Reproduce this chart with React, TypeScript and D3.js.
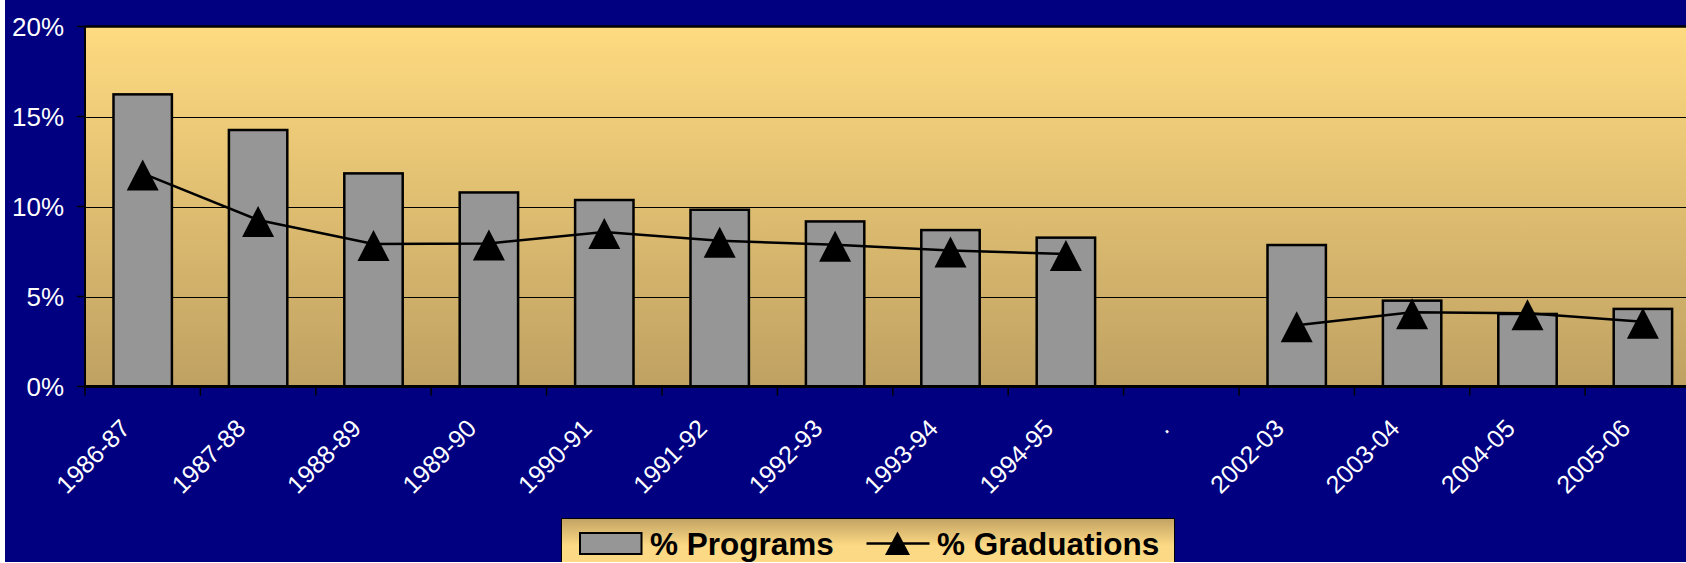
import React from "react";
import * as d3 from "d3";

const categories = ["1986-87","1987-88","1988-89","1989-90","1990-91","1991-92","1992-93","1993-94","1994-95",".","2002-03","2003-04","2004-05","2005-06"];
const programs: (number | null)[] = [16.23,14.25,11.84,10.78,10.36,9.82,9.17,8.69,8.27,null,7.86,4.77,4.03,4.31];
const graduations: (number | null)[] = [11.84,9.25,7.92,7.95,8.58,8.1,7.88,7.56,7.36,null,3.4,4.12,4.07,3.6];
const yTicks = [0,5,10,15,20];
const seriesNames = ["% Programs","% Graduations"];

const W = 1686, H = 563;
const FONT = "'Liberation Sans', Arial, sans-serif";

export default function App() {
  const left = 85, top = 26.5, bottom = 386.5;
  const step = 115.4;
  const right = left + step * categories.length;
  const x = d3.scaleBand<string>().domain(categories).range([left, right]).padding(0);
  const y = d3.scaleLinear().domain([0, 20]).range([bottom, top]);
  const bw = x.bandwidth() * 0.506;
  const cx = (c: string) => (x(c) as number) + x.bandwidth() / 2;

  const line = d3.line<[string, number | null]>()
    .defined(d => d[1] != null)
    .x(d => cx(d[0]))
    .y(d => y(d[1] as number));
  const lineData: [string, number | null][] = categories.map((c, i) => [c, graduations[i]]);

  const tri = (px: number, py: number, hw = 16, up = 14, down = 17) =>
    `M${px},${py - up}L${px + hw},${py + down}L${px - hw},${py + down}Z`;

  return (
    <svg width={W} height={H} style={{ position: "absolute", left: 0, top: 0 }} fontFamily={FONT}>
      <defs>
        <linearGradient id="plotg" x1="0" y1="0" x2="0" y2="1">
          <stop offset="0" stopColor="#FEDA80" />
          <stop offset="1" stopColor="#BFA162" />
        </linearGradient>
        <linearGradient id="legg" x1="0" y1="0" x2="0" y2="1">
          <stop offset="0" stopColor="#C2A263" />
          <stop offset="0.45" stopColor="#FCD984" />
          <stop offset="1" stopColor="#FCD984" />
        </linearGradient>
        <clipPath id="bg"><rect x={5} y={0} width={W - 5} height={562} /></clipPath>
      </defs>
      <g clipPath="url(#bg)">
        <rect x={5} y={0} width={W - 5} height={562} fill="#000080" />
        <rect x={left} y={top} width={right - left} height={bottom - top} fill="url(#plotg)" />
        {yTicks.filter(t => t > 0 && t < 20).map(t => (
          <line key={t} x1={left} x2={right} y1={Math.round(y(t)) + 0.5} y2={Math.round(y(t)) + 0.5} stroke="#000" strokeWidth={1} />
        ))}
        {categories.map((c, i) => programs[i] == null ? null : (
          <rect key={c} x={cx(c) - bw / 2} y={y(programs[i] as number)} width={bw} height={bottom - y(programs[i] as number)}
            fill="#969696" stroke="#000" strokeWidth={2.5} />
        ))}
        <path d={line(lineData) || ""} fill="none" stroke="#000" strokeWidth={2.5} />
        {categories.map((c, i) => graduations[i] == null ? null : (
          <path key={c} d={tri(cx(c), y(graduations[i] as number))} fill="#000" />
        ))}
        {/* plot frame */}
        <line x1={left} x2={right} y1={top} y2={top} stroke="#000" strokeWidth={2.5} />
        <line x1={left} x2={left} y1={top} y2={bottom} stroke="#000" strokeWidth={2} />
        <line x1={left} x2={right} y1={bottom} y2={bottom} stroke="#000" strokeWidth={3} />
        {/* y axis */}
        {yTicks.map(t => (
          <g key={t}>
            <line x1={left - 8} x2={left} y1={y(t)} y2={y(t)} stroke="#000" strokeWidth={1.5} />
            <text x={64} y={y(t)} dy="0.36em" textAnchor="end" fill="#fff" fontSize={26}>{t}%</text>
          </g>
        ))}
        {/* x axis ticks */}
        {d3.range(categories.length + 1).map(i => (
          <line key={i} x1={left + i * step} x2={left + i * step} y1={bottom} y2={bottom + 9} stroke="#000" strokeWidth={1.5} />
        ))}
        {categories.map(c => (
          <text key={c} transform={`translate(${cx(c) - 11},${430}) rotate(-45)`} textAnchor="end" fill="#fff" fontSize={25}>{c}</text>
        ))}
        {/* legend */}
        <rect x={561.5} y={518.5} width={613} height={60} fill="url(#legg)" stroke="#000" strokeWidth={1} />
        <rect x={580} y={533} width={61.5} height={21} fill="#969696" stroke="#000" strokeWidth={2} />
        <text x={650} y={555} fill="#000" fontSize={31.5} fontWeight="bold">{seriesNames[0]}</text>
        <line x1={866.5} x2={929.5} y1={543.5} y2={543.5} stroke="#000" strokeWidth={2.5} />
        <path d={tri(897.5, 543.5, 12.5, 12, 11.5)} fill="#000" />
        <text x={937} y={555} fill="#000" fontSize={31.5} fontWeight="bold">{seriesNames[1]}</text>
      </g>
    </svg>
  );
}
